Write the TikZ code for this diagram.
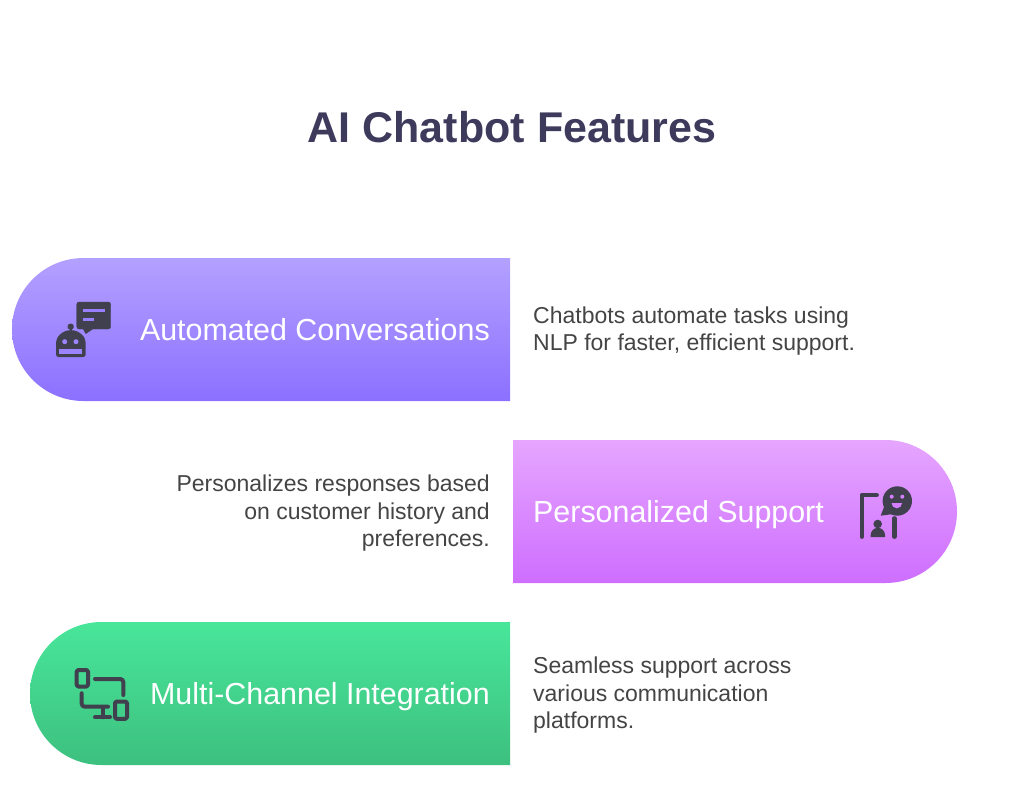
\documentclass[tikz,border=0pt]{standalone}
\usepackage{fontspec}
\setmainfont{Liberation Sans}
\usepackage{tikz}
\definecolor{colorTitle}{HTML}{3D3A5C}
\definecolor{colorBody}{HTML}{444444}
\definecolor{colorIcon}{HTML}{40404F}
\definecolor{colorA}{HTML}{B3A1FF}
\definecolor{colorB}{HTML}{8C70FF}
\definecolor{colorC}{HTML}{E6A6FF}
\definecolor{colorD}{HTML}{CE6EFF}
\definecolor{colorE}{HTML}{48E69A}
\definecolor{colorF}{HTML}{3DC07F}
\tikzset{
  labeltext/.style={text=white,font=\fontsize{30.4}{30.4}\selectfont,inner sep=0pt},
  bodytext/.style={text=colorBody,font=\fontsize{23}{27.5}\selectfont,inner sep=0pt},
  iconline/.style={draw=colorIcon,line width=4pt,line cap=round,line join=round},
  iconfill/.style={fill=colorIcon}
}
\begin{document}
\begin{tikzpicture}[x=1pt,y=-1pt]
        \useasboundingbox (0,0) rectangle (1024,805);
        \node[text=colorTitle,font=\fontsize{43}{43}\selectfont\bfseries,inner sep=0pt] (title) at (512,127.5) {AI Chatbot Features};

        % bars
        \shade[top color=colorA,bottom color=colorB] (510,258) -- (83.5,258) arc (-90:-270:71.5) -- (510,401) -- cycle;
        \shade[top color=colorC,bottom color=colorD] (513,440) -- (885.5,440) arc (-90:90:71.5) -- (513,583) -- cycle;
        \shade[top color=colorE,bottom color=colorF] (510,622) -- (101.5,622) arc (-90:-270:71.5) -- (510,765) -- cycle;

        \node[labeltext,anchor=base east] (autoLabel) at (490,340) {Automated Conversations};
        \node[labeltext,anchor=base west] (persLabel) at (533,522) {Personalized Support};
        \node[labeltext,anchor=base east] (multiLabel) at (490,704) {Multi-Channel Integration};

        \node[bodytext,anchor=west,align=left] (autoText) at (533,331) {Chatbots automate tasks using\\NLP for faster, efficient support.};
        \node[bodytext,anchor=east,align=right] (persText) at (490,513.5) {Personalizes responses based\\on customer history and\\preferences.};
        \node[bodytext,anchor=west,align=left] (multiText) at (533,695.5) {Seamless support across\\various communication\\platforms.};

        % robot icon
        \filldraw[iconfill,draw=colorIcon,rounded corners=2.5pt] (76.7,302) rectangle (110.7,329);
        \fill[colorIcon] (82,327) -- (85.7,334) -- (96,327) -- cycle;
        \draw[colorB!70!colorA,line width=3pt] (82.7,310) -- (105,310);
        \draw[colorB!70!colorA,line width=3pt] (82.7,319) -- (94,319);
        \fill[colorIcon] (70.7,326.7) circle (3.2);
        \draw[colorIcon,line width=2pt] (70.7,326.7) -- (70.7,333);
        \fill[colorIcon,rounded corners=2.5pt] (56,357) -- (56,345) arc (180:360:14.85) -- (85.7,357) -- cycle;
        \fill[colorB!60!colorA] (64.7,341.7) circle (2.5);
        \fill[colorB!60!colorA] (76,341.7) circle (2.5);
        \fill[colorB!60!colorA] (59.3,349.3) rectangle (82.3,354);

        % person icon
        \draw[iconline,line width=4.4pt] (876.7,495) -- (861.7,495) -- (861.7,536.7);
        \draw[iconline,line width=4.4pt] (894.3,518.3) -- (894.3,536.7);
        \fill[colorIcon] (897.3,501) circle (14.7);
        \fill[colorIcon] (884,507) -- (880.7,515.7) -- (893,514) -- cycle;
        \fill[colorD!70!colorC] (891.7,496.7) circle (2);
        \fill[colorD!70!colorC] (902.3,496.7) circle (2);
        \fill[colorD!70!colorC] (891.5,503) arc (180:0:5.3) -- cycle;
        \fill[colorIcon] (877.7,524) circle (4.3);
        \fill[colorIcon] (870.7,537) -- (870.7,535) arc (180:360:7.15) -- (885,537) -- cycle;

        % devices icon
        \draw[iconline,rounded corners=1.5pt] (76.7,670) rectangle (88,686.5);
        \draw[iconline,rounded corners=3pt] (95,679) -- (123.3,679) -- (123.3,695);
        \draw[iconline,rounded corners=3pt] (81.7,693.3) -- (81.7,706.7) -- (108,706.7);
        \draw[iconline] (103,707) -- (103,717.3);
        \draw[iconline] (95,717.3) -- (110,717.3);
        \draw[iconline,rounded corners=1.5pt] (115,701.5) rectangle (127,718.8);
    \end{tikzpicture}
\end{document}
